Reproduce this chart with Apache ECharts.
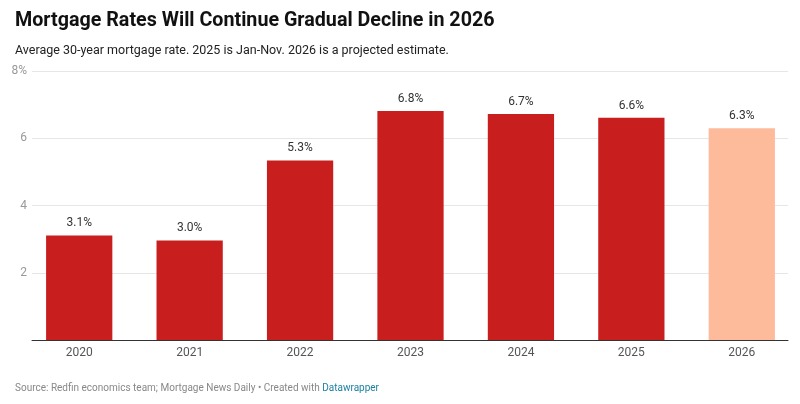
<!DOCTYPE html>
<html><head><meta charset="utf-8">
<script src="https://cdn.jsdelivr.net/npm/echarts@6/dist/echarts.min.js"></script>
<style>html,body{margin:0;padding:0;background:#fff}#c{width:800px;height:404px}</style>
</head><body><div id="c"></div>
<script>
const categories = ['2020','2021','2022','2023','2024','2025','2026'];
const rates = [3.11, 2.96, 5.34, 6.81, 6.72, 6.61, 6.3];
const yTicks = [0, 2, 4, 6, 8];
const barColor = '#c81f1e';
const projColor = '#fdbb9c';
const font = 'Roboto, "Noto Sans", sans-serif';

const chart = echarts.init(document.getElementById('c'));
chart.setOption({
  backgroundColor: '#fff',
  animation: false,
  title: [
    {text: 'Mortgage Rates Will Continue Gradual Decline in 2026', left: 10, top: 6,
     textStyle: {fontFamily: font, fontSize: 19.7, fontWeight: 'bold', color: '#111'}},
    {text: 'Average 30-year mortgage rate. 2025 is Jan-Nov. 2026 is a projected estimate.', left: 10, top: 39,
     textStyle: {fontFamily: font, fontSize: 12.5, fontWeight: 'normal', color: '#222'}},
    {text: '{a|Source: Redfin economics team; Mortgage News Daily • Created with }{b|Datawrapper}', left: 10, top: 378,
     textStyle: {fontWeight: 'normal', rich: {a: {fontFamily: font, fontSize: 10, fontWeight: 'normal', color: '#888'}, b: {fontFamily: font, fontSize: 10, fontWeight: 'normal', color: '#1d81a2'}}}}
  ],
  grid: [
    {left: 24, right: 3, top: 71, bottom: 64},
    {left: 32, right: 12, top: 71, bottom: 64}
  ],
  xAxis: [
    {type: 'category', gridIndex: 0, data: categories,
     axisLine: {show: false}, axisTick: {show: false},
     axisLabel: {margin: 7, color: '#555', fontFamily: font, fontSize: 12}},
    {type: 'category', gridIndex: 1, data: categories, axisTick: {show: false}, axisLabel: {show: false},
     axisLine: {show: true, lineStyle: {color: '#333', width: 1}}, z: 5}
  ],
  yAxis: [
    {type: 'value', gridIndex: 0, min: 0, max: 8, interval: 2, show: false},
    {type: 'value', gridIndex: 1, min: 0, max: 8, interval: 2,
     axisLine: {show: false}, axisTick: {show: false},
     splitLine: {lineStyle: {color: '#e6e6e6', width: 1}},
     axisLabel: {margin: 5, color: '#999', fontFamily: font, fontSize: 12,
       formatter: v => v === 0 ? '' : (v === yTicks[yTicks.length-1] ? v + '%' : String(v))}}
  ],
  series: [{
    type: 'bar', xAxisIndex: 0, yAxisIndex: 0,
    data: rates.map((v, i) => ({value: v, itemStyle: {color: i === rates.length - 1 ? projColor : barColor}})),
    barCategoryGap: '40%',
    label: {show: true, position: 'top', distance: 6, color: '#333', fontFamily: font, fontSize: 12,
      formatter: p => p.value.toFixed(1) + '%'},
    z: 3
  }]
});
</script></body></html>
